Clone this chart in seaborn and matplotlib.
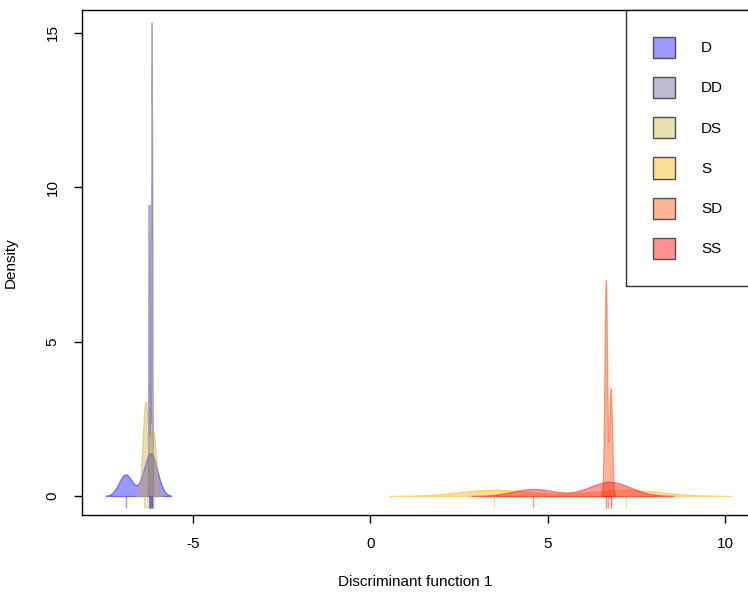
import numpy as np
import matplotlib
matplotlib.use("Agg")
import matplotlib.pyplot as plt
import seaborn as sns
from matplotlib.patches import Patch
from matplotlib.colors import to_rgba

groups = ["D", "DD", "DS", "S", "SD", "SS"]
scores_D = [-6.90, -6.22, -6.18]
scores_DD = [-6.25, -6.25, -6.21, -6.21, -6.17, -6.17, -6.17, -6.15, -6.15]
scores_DS = [-6.37, -6.34, -6.31, -6.14, -6.10]
scores_S = [3.50, 7.20]
scores_SD = [6.64, 6.64, 6.78]
scores_SS = [4.60, 6.70, 6.80]
scores = [scores_D, scores_DD, scores_DS, scores_S, scores_SD, scores_SS]
# kernel bandwidths (density smoothing) per group
bandwidths = [0.19, 0.0094, 0.075, 0.99, 0.038, 0.58]

base_colors = ["#0000FF", "#5C509B", "#CDAC37", "#FFAC00", "#FF4300", "#FF0000"]
legend_colors = ["#9999FF", "#BEB9D7", "#EBDEAF", "#FFDE96", "#FFB496", "#FF9191"]

xticks = [-5, 0, 5, 10]
yticks = [0, 5, 10, 15]

plt.rcParams["font.family"] = ["Liberation Sans", "DejaVu Sans"]

W, H = 748, 593
fig = plt.figure(figsize=(W / 100, H / 100), dpi=100)
ax = fig.add_axes([82 / W, 1 - 515 / H, 1 - 82 / W, (515 - 10) / H])

for g, x, h, c in zip(groups, scores, bandwidths, base_colors):
    x = np.asarray(x, dtype=float)
    bw = h / np.std(x, ddof=1)
    sns.kdeplot(x=x, bw_method=bw, fill=True, color=c, alpha=0.4,
                edgecolor=to_rgba(c, 0.45), linewidth=0.9, gridsize=400, ax=ax)
    ax.vlines(x, -0.4, 0, colors=c, alpha=0.4, linewidth=1)

ax.set_xlim(-8.13, 10.65)
ax.set_ylim(-0.615, 15.745)
ax.set_xticks(xticks)
ax.set_yticks(yticks)
ax.set_xticklabels([str(v) for v in xticks])
ax.set_yticklabels([str(v) for v in yticks], rotation=90, va="center")
ax.tick_params(direction="out", length=6, width=1, pad=10, labelsize=11)
ax.set_xlabel("Discriminant function 1", fontsize=11, labelpad=17)
ax.set_ylabel("Density", fontsize=11, labelpad=20)
for s in ["left", "bottom", "top"]:
    ax.spines[s].set_linewidth(1)
    ax.spines[s].set_color("black")
ax.spines["right"].set_visible(False)

handles = [Patch(facecolor=lc, edgecolor="#505050", linewidth=1) for lc in legend_colors]
leg = ax.legend(handles, groups, loc="upper left",
                bbox_to_anchor=(626 / W, 1 - 10 / H), bbox_transform=fig.transFigure,
                borderaxespad=0, fontsize=11, frameon=True, fancybox=False,
                handlelength=1.45, handleheight=1.75, labelspacing=1.25,
                borderpad=1.75, handletextpad=1.7)
leg.get_frame().set_edgecolor("black")
leg.get_frame().set_linewidth(1)

fig.savefig("out.png", dpi=100)
